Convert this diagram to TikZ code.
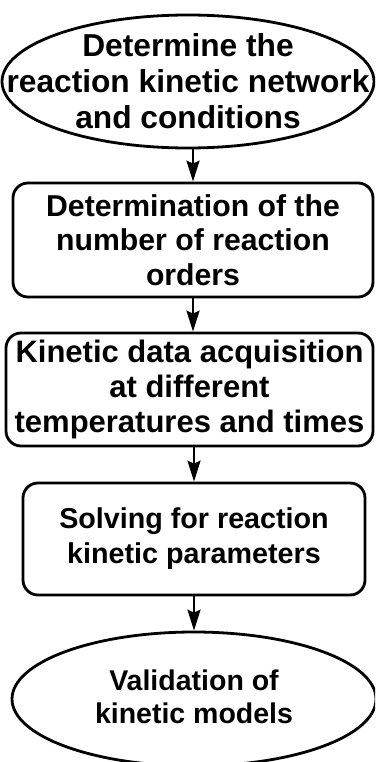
\documentclass[tikz,border=0pt]{standalone}
\usepackage{fontspec}
\setmainfont{Liberation Sans}
\usetikzlibrary{shapes.geometric,arrows.meta}
\tikzset{
  shapeline/.style={draw=black, line width=2.8pt, inner sep=0pt, fill=white},
  ellbox/.style={shapeline, ellipse},
  stepbox/.style={shapeline, rectangle, rounded corners=15pt},
  txt/.style={align=center, inner sep=0pt, text=black},
  arr/.style={line width=2.4pt, -{Stealth[length=21pt,width=13pt,inset=3pt]}}
}
\begin{document}
\begin{tikzpicture}[x=1pt,y=-1pt]
\useasboundingbox (0,0) rectangle (375,762);
\fill[white] (0,0) rectangle (375,762);
\clip (0,0) rectangle (375,762);

\node[ellbox, minimum width=372pt, minimum height=133pt] (e1) at (188,81.5) {};
\node[txt, font=\bfseries\fontsize{31.7}{36}\selectfont] (t1) at (188,81) {Determine the\\reaction kinetic network\\and conditions};

\node[stepbox, minimum width=360pt, minimum height=114pt, txt, font=\bfseries\fontsize{30.2}{34.5}\selectfont] (b2) at (193,240) {Determination of the\\number of reaction\\orders};

\node[stepbox, minimum width=367pt, minimum height=113pt, txt, font=\bfseries\fontsize{31}{35}\selectfont] (b3) at (189.5,389.5) {Kinetic data acquisition\\at different\\temperatures and times};

\node[stepbox, minimum width=342pt, minimum height=112pt, txt, font=\bfseries\fontsize{28.7}{35}\selectfont] (b4) at (194,539) {Solving for reaction\\kinetic parameters};

\node[ellbox, minimum width=364pt, minimum height=134pt] (e2) at (194,699) {};
\node[txt, font=\bfseries\fontsize{28.5}{33}\selectfont] (t5) at (194,697) {Validation of\\kinetic models};

\draw[arr] (b2.north |- e1.south) -- (b2.north);
\draw[arr] (b2.south) -- (b2.south |- b3.north);
\draw[arr] (b4.north |- b3.south) -- (b4.north);
\draw[arr] (b4.south) -- (b4.south |- e2.north);
\end{tikzpicture}
\end{document}
